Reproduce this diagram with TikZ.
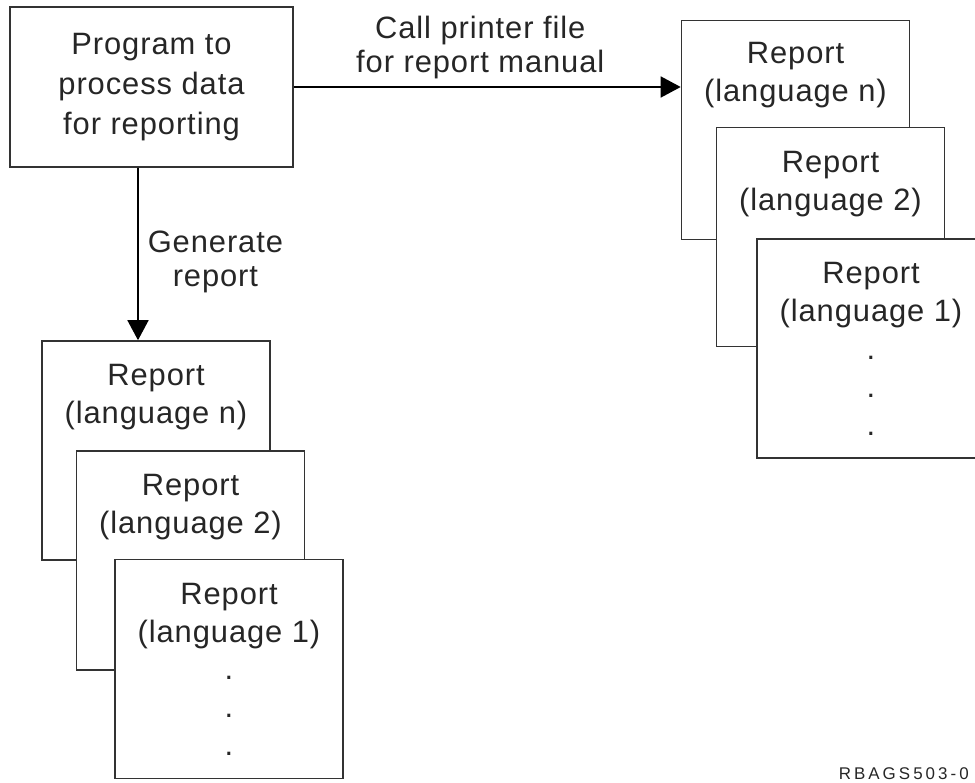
\documentclass[tikz,border=0pt]{standalone}
\usepackage{fontspec}
\setmainfont{Liberation Sans}
\usetikzlibrary{arrows.meta,calc}

\newcommand\boxfont{\fontsize{31}{38}\selectfont\addfontfeature{LetterSpace=3}}
\newcommand\progfont{\fontsize{31}{40}\selectfont\addfontfeature{LetterSpace=3}}
\newcommand\lblfont{\fontsize{31}{34}\selectfont\addfontfeature{LetterSpace=3}}
\newcommand\codefont{\fontsize{17}{20}\selectfont\addfontfeature{LetterSpace=18}}

\tikzset{
  page/.style={draw=black!80,line width=1.6bp,fill=white,
    minimum width=228bp,minimum height=219bp,inner sep=0pt},
  pagetext/.style={anchor=north,align=center,inner sep=0pt,text=black!85},
  flow/.style={line width=1.6bp,-{Triangle[length=20bp,width=21bp]}},
  lbl/.style={align=center,font=\lblfont,text=black!85,inner sep=0pt}
}

\begin{document}
\begin{tikzpicture}[x=1bp,y=-1bp,font=\boxfont]
          \useasboundingbox (0,0) rectangle (975,783);
          \clip (0,0) rectangle (975,783);
          %\draw[very thin,lightgray] (0,0) grid[step=50] (975,783);
          \node[draw=black!80,line width=1.6bp,minimum width=283bp,
            minimum height=160bp,align=center,text=black!85,font=\progfont]
          (prog) at (151.5,87) {Program to\\process data\\for reporting};
          % left stack
          \node[page] (ln) at (156,450.5) {};
          \node[pagetext] (lntxt) at ([yshift=-24bp]ln.north)
          {Report\\(language n)};
          \node[page] (l2) at (190.5,560.5) {};
          \node[pagetext] (l2txt) at ([yshift=-24bp]l2.north)
          {Report\\(language 2)};
          \node[page] (l1) at (229,669) {};
          \node[pagetext] (l1txt) at ([yshift=-24bp]l1.north)
          {Report\\(language 1)\\.\\.\\.};
          % right stack
          \node[page] (rn) at (795.5,130) {};
          \node[pagetext] (rntxt) at ([yshift=-22bp]rn.north)
          {Report\\(language n)};
          \node[page] (r2) at (830.5,237) {};
          \node[pagetext] (r2txt) at ([yshift=-24bp]r2.north)
          {Report\\(language 2)};
          \node[page] (r1) at (871,348.5) {};
          \node[pagetext] (r1txt) at ([yshift=-24bp]r1.north)
          {Report\\(language 1)\\.\\.\\.};
          % arrows
          \draw[flow] (prog.east) -- (prog.east -| rn.west)
          node[lbl,midway,above=7bp,xshift=-7bp] (call)
          {Call printer file\\for report manual};
          \draw[flow] ([xshift=-13.5bp]prog.south) -- ([xshift=-18bp]ln.north)
          node[lbl,midway,right=9bp,yshift=-8bp] (gen) {Generate\\report};
          \node[anchor=south east,font=\codefont,text=black!85,inner sep=0pt]
          (code) at (969,780) {RBAGS503-0};
        \end{tikzpicture}
\end{document}
